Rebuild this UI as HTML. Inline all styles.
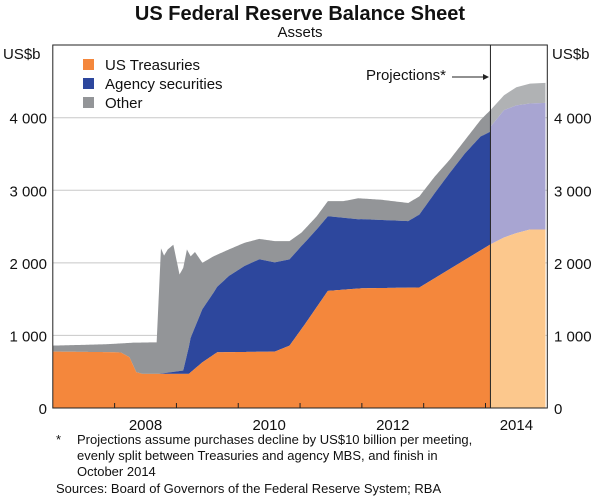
<!DOCTYPE html>
<html><head><meta charset="utf-8"><style>
body{margin:0;background:#fff;font-family:"Liberation Sans",Arial,sans-serif;}
svg text{font-family:"Liberation Sans",Arial,sans-serif;fill:#111;}
</style></head><body>
<svg id="chart" width="600" height="499" viewBox="0 0 600 499">
<text x="300" y="20" text-anchor="middle" font-size="20" font-weight="bold">US Federal Reserve Balance Sheet</text>
<text x="300" y="37" text-anchor="middle" font-size="15">Assets</text>
<g id="grid"></g>
<g id="areas"></g>
<g id="axes"></g>
</svg>
<script>
const yTicks=[0,1000,2000,3000,4000];
const yTickLabels=["0","1 000","2 000","3 000","4 000"];
const yearLabels=["2008","2010","2012","2014"];
const yearLabelPos=[2008.5,2010.5,2012.5,2014.5];
const yearTicks=[2008,2009,2010,2011,2012,2013,2014];
// historical
const treasYears=[2007.0,2007.9,2008.1,2008.24,2008.35,2008.45,2009.2,2009.42,2009.66,2010.59,2010.83,2011.08,2011.45,2012.0,2012.93,2014.08];
const treasVals=[777,770,765,700,494,470,470,630,768,777,860,1156,1614,1650,1660,2254];
const agencyYears=[2007.0,2008.71,2009.11,2009.23,2009.42,2009.6,2009.85,2010.1,2010.34,2010.83,2011.02,2011.27,2011.45,2011.94,2012.75,2012.93,2013.18,2013.42,2013.67,2013.92,2014.08];
const agencyVals=[0,0,46,475,732,855,1050,1184,1274,1188,1145,1070,1028,955,917,1005,1173,1323,1468,1569,1554];
const totalYears=[2007.0,2007.5,2007.9,2008.3,2008.68,2008.75,2008.8,2008.86,2008.95,2009.05,2009.11,2009.17,2009.23,2009.3,2009.42,2009.6,2009.85,2010.1,2010.34,2010.59,2010.83,2011.02,2011.27,2011.45,2011.7,2011.94,2012.31,2012.75,2012.93,2013.18,2013.42,2013.67,2013.92,2014.08];
const totalVals=[860,870,880,900,905,2200,2100,2185,2250,1840,1930,2185,2090,2150,2000,2090,2185,2276,2330,2300,2300,2414,2642,2850,2850,2890,2870,2825,2916,3190,3420,3694,3968,4105];
// projections
const projYears=[2014.08,2014.3,2014.5,2014.72,2014.97];
const projTreas=[2254,2350,2410,2460,2460];
const projAgency=[3876,4105,4170,4196,4205];
const projTotal=[4105,4310,4420,4470,4480];

const L=52.8,R=547.3,T=45,B=408;
const X=y=>L+(y-2007)*(R-L)/8;
const Y=v=>B-v*(B-117.7)/4000;
const NS="http://www.w3.org/2000/svg";
function mk(tag,attrs,parent){const e=document.createElementNS(NS,tag);for(const k in attrs)e.setAttribute(k,attrs[k]);parent.appendChild(e);return e;}
function interp(xs,vs,x){if(x<=xs[0])return vs[0];for(let i=1;i<xs.length;i++){if(x<=xs[i]){const t=(x-xs[i-1])/(xs[i]-xs[i-1]);return vs[i-1]+t*(vs[i]-vs[i-1]);}}return vs[vs.length-1];}
const grid=document.getElementById('grid'),areas=document.getElementById('areas'),axes=document.getElementById('axes');
yTicks.forEach((v,i)=>{
 if(v>0){const g=mk('line',{x1:L,x2:R,y1:Y(v),y2:Y(v),stroke:'#c8c8c8','stroke-width':1},grid);
 
 }
 const a=mk('text',{x:47,y:Y(v)+6,'text-anchor':'end','font-size':15},axes);a.textContent=yTickLabels[i];
 
 
 const b=mk('text',{x:554,y:Y(v)+6,'font-size':15},axes);b.textContent=yTickLabels[i];
 
 
});
const x0=2007,x1=2014.08;
const samp=[];const set=new Set();
[treasYears,agencyYears,totalYears].forEach(a=>a.forEach(v=>{if(v<=x1)set.add(v)}));
for(let s=x0;s<=x1;s+=0.02)set.add(+s.toFixed(3));set.add(x1);
Array.from(set).sort((a,b)=>a-b).forEach(v=>samp.push(v));
const tr=samp.map(s=>interp(treasYears,treasVals,s));
const ag=samp.map((s,i)=>tr[i]+interp(agencyYears,agencyVals,s));
const tot=samp.map((s,i)=>Math.max(ag[i],interp(totalYears,totalVals,s)));
function band(xs,lo,hi,fill,name){
 let d='M'+X(xs[0])+','+Y(hi[0]);
 for(let i=1;i<xs.length;i++)d+='L'+X(xs[i]).toFixed(2)+','+Y(hi[i]).toFixed(2);
 for(let i=xs.length-1;i>=0;i--)d+='L'+X(xs[i]).toFixed(2)+','+Y(lo[i]).toFixed(2);
 const p=mk('path',{d:d+'Z',fill:fill},areas);
 
 
}
const zeros=samp.map(()=>0);
band(samp,ag,tot,'#939598','area-other');
band(samp,tr,ag,'#2d479d','area-agency');
band(samp,zeros,tr,'#f4873c','area-treasuries');
const pz=projYears.map(()=>0);
band(projYears,projAgency,projTotal,'#b0b2b4','area-other-projection');
band(projYears,projTreas,projAgency,'#a8a5d2','area-agency-projection');
band(projYears,pz,projTreas,'#fcc88d','area-treasuries-projection');
const f=mk('rect',{x:L,y:T,width:R-L,height:B-T,fill:'none',stroke:'#222','stroke-width':1},axes);


const dv=mk('line',{x1:X(2014.08),x2:X(2014.08),y1:T,y2:B,stroke:'#222','stroke-width':1},axes);


yearTicks.forEach(y=>{const t=mk('line',{x1:X(y),x2:X(y),y1:B,y2:B-5,stroke:'#222','stroke-width':1},axes);
 
 });
yearLabels.forEach((l,i)=>{const t=mk('text',{x:X(yearLabelPos[i]),y:430,'text-anchor':'middle','font-size':15},axes);t.textContent=l;
 
 });
</script>
<svg style="position:absolute;left:0;top:0" width="600" height="499">
<text x="3" y="59" font-size="15">US$b</text>
<text x="552" y="59" font-size="15">US$b</text>
<g>
<rect x="83" y="59" width="11" height="11" fill="#f4873c"/>
<text x="105" y="70" font-size="15">US Treasuries</text>
<rect x="83" y="78" width="11" height="11" fill="#2d479d"/>
<text x="105" y="89" font-size="15">Agency securities</text>
<rect x="83" y="97" width="11" height="11" fill="#939598"/>
<text x="105" y="108" font-size="15">Other</text>
</g>
<text x="446" y="80" font-size="15" text-anchor="end">Projections*</text>
<line x1="452" y1="77" x2="484" y2="77" stroke="#222" stroke-width="1"/>
<path d="M483,74 L489,77 L483,80 Z" fill="#222"/>
<g font-size="13">
<text x="56" y="444">*</text>
<text x="77" y="444">Projections assume purchases decline by US$10 billion per meeting,</text>
<text x="77" y="460">evenly split between Treasuries and agency MBS, and finish in</text>
<text x="77" y="476">October 2014</text>
<text x="56" y="493">Sources: Board of Governors of the Federal Reserve System; RBA</text>
</g>
</svg>
</body></html>
